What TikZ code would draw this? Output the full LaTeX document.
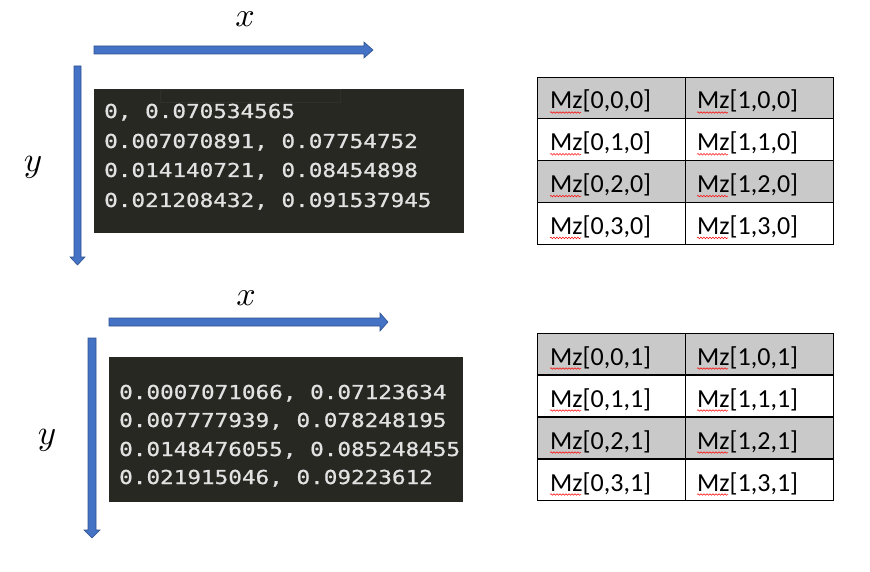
\documentclass[tikz,border=0pt]{standalone}
\usepackage{fontspec}
\usepackage{graphicx}
\usetikzlibrary{decorations.pathmorphing}
\newfontfamily\codefont[FakeStretch=1.18,FakeBold=0.8]{DejaVu Sans Mono}
\newfontfamily\tabfont{Carlito}
\definecolor{arrowblue}{HTML}{4472C4}
\definecolor{arrowedge}{HTML}{2F528F}
\definecolor{codebg}{HTML}{272822}
\definecolor{codefg}{HTML}{E2E2E2}
\definecolor{codeedge}{HTML}{302F29}
\definecolor{rowgray}{HTML}{C9C9C9}
\begin{document}
\begin{tikzpicture}[x=1pt,y=-1pt,
  blockarrow/.style={fill=arrowblue, draw=arrowedge, line width=0.6pt},
  codebox/.style={fill=codebg, draw=none},
  codeline/.style={anchor=base west, inner sep=0pt, text=codefg, font=\codefont\fontsize{19.2}{20}\selectfont},
  cell/.style={draw=black, line width=0.8pt, minimum width=148pt, minimum height=41.8pt, inner sep=0pt, outer sep=0pt, anchor=north west},
  celltext/.style={anchor=base west, inner sep=0pt, font=\tabfont\fontsize{26}{28}\selectfont},
  axislabel/.style={inner sep=0pt},
  squiggle/.style={draw=red, line width=0.5pt, decorate, decoration={snake, amplitude=0.8pt, segment length=3pt}}]
\useasboundingbox (0,0) rectangle (870,572);

% ---------- top block ----------
\node[axislabel] (xlabA) at (245,19) {\scalebox{3.4}{$x$}};
\node[axislabel] (ylabA) at (33,167) {\scalebox{3.5}{$y$}};
\draw[blockarrow] (94,46) -- (364,46) -- (364,42) -- (373,50) -- (364,58) -- (364,54) -- (94,54) -- cycle;
\draw[blockarrow] (74,66) -- (81,66) -- (81,257) -- (85,257) -- (77.5,265) -- (70,257) -- (74,257) -- cycle;
\fill[codebox] (94,89) rectangle (464,233);
\draw[codeedge, line width=0.6pt] (160,89.5) rectangle (340,102);
\node[codeline] (ca1) at (104,118) {0, 0.070534565};
\node[codeline] (ca2) at (104,148) {0.007070891, 0.07754752};
\node[codeline] (ca3) at (104,177) {0.014140721, 0.08454898};
\node[codeline] (ca4) at (104,207) {0.021208432, 0.091537945};

\foreach \r/\f in {0/rowgray,1/white,2/rowgray,3/white}{
  \node[cell, fill=\f] (ta\r) at (537,{77+\r*41.8}) {};
  \node[cell, fill=\f] (tb\r) at (685,{77+\r*41.8}) {};
  \node[celltext] (tta\r) at (550,{109+\r*41.8}) {Mz[0,\r,0]};
  \node[celltext] (ttb\r) at (697,{109+\r*41.8}) {Mz[1,\r,0]};
  \draw[squiggle] (tta\r.base west) ++(0,3.5) -- ++(31,0);
  \draw[squiggle] (ttb\r.base west) ++(0,3.5) -- ++(31,0);
}

% ---------- bottom block ----------
\node[axislabel] (xlabB) at (246,298) {\scalebox{3.4}{$x$}};
\node[axislabel] (ylabB) at (47,440) {\scalebox{3.5}{$y$}};
\draw[blockarrow] (109,318) -- (380,318) -- (380,313) -- (388,322) -- (380,331) -- (380,326) -- (109,326) -- cycle;
\draw[blockarrow] (88,338) -- (96,338) -- (96,530) -- (100,530) -- (92,538) -- (84,530) -- (88,530) -- cycle;
\fill[codebox] (109,357) rectangle (463,502);
\node[codeline] (cb1) at (119,399) {0.0007071066, 0.07123634};
\node[codeline] (cb2) at (119,427) {0.007777939, 0.078248195};
\node[codeline] (cb3) at (119,456) {0.0148476055, 0.085248455};
\node[codeline] (cb4) at (119,484) {0.021915046, 0.09223612};

\foreach \r/\f in {0/rowgray,1/white,2/rowgray,3/white}{
  \node[cell, fill=\f] (ba\r) at (537,{333+\r*42}) {};
  \node[cell, fill=\f] (bb\r) at (685,{333+\r*42}) {};
  \node[celltext] (bta\r) at (550,{365+\r*42}) {Mz[0,\r,1]};
  \node[celltext] (btb\r) at (697,{365+\r*42}) {Mz[1,\r,1]};
  \draw[squiggle] (bta\r.base west) ++(0,3.5) -- ++(31,0);
  \draw[squiggle] (btb\r.base west) ++(0,3.5) -- ++(31,0);
}
\end{tikzpicture}
\end{document}
